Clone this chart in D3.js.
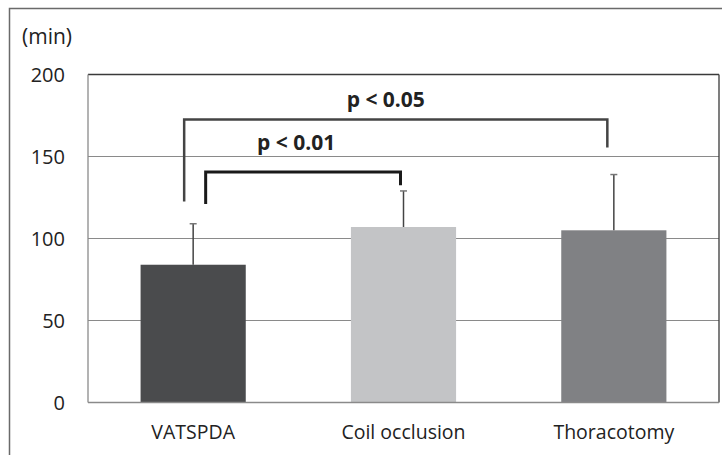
<!DOCTYPE html>
<html><head><meta charset="utf-8">
<script src="https://cdn.jsdelivr.net/npm/d3@7"></script>
<style>html,body{margin:0;padding:0;background:#fff;} svg{display:block;}</style>
</head><body>
<script>
const categories = ["VATSPDA", "Coil occlusion", "Thoracotomy"];
const means = [84, 107, 105];
const errTops = [109, 129, 139];
const barColors = ["#4a4b4d", "#c3c4c6", "#808184"];
const yTicks = [0, 50, 100, 150, 200];
const yLabel = "(min)";
const sigLabels = ["p < 0.01", "p < 0.05"];
const sigPairs = [[0, 1], [0, 2]];

const W = 722, H = 455;
const m = {left: 88, right: 3, top: 74.5, bottom: 52.5};
const svg = d3.select("body").append("svg").attr("width", W).attr("height", H);
const font = "'Open Sans', sans-serif";

// outer frame
svg.append("rect").attr("x", 9.5).attr("y", 8.5).attr("width", 730).attr("height", 460)
  .attr("fill", "none").attr("stroke", "#6a6a6a").attr("stroke-width", 1.5);

const x = d3.scaleBand().domain(categories).range([m.left, W - m.right]).paddingInner(0.5).paddingOuter(0.25);
const y = d3.scaleLinear().domain([0, 200]).range([H - m.bottom, m.top]);

// gridlines
svg.append("g").selectAll("line").data(yTicks.filter(t => t > 0 && t < 200)).join("line")
  .attr("x1", m.left).attr("x2", W - m.right)
  .attr("y1", d => y(d)).attr("y2", d => y(d))
  .attr("stroke", "#8a8a8a").attr("stroke-width", 1.2);

// plot border
svg.append("line").attr("x1", m.left).attr("x2", W - m.right).attr("y1", y(200)).attr("y2", y(200)).attr("stroke", "#3a3a3a").attr("stroke-width", 1.3);
svg.append("line").attr("x1", W - m.right).attr("x2", W - m.right).attr("y1", y(200)).attr("y2", y(0)).attr("stroke", "#3a3a3a").attr("stroke-width", 1.3);
svg.append("line").attr("x1", m.left).attr("x2", m.left).attr("y1", y(200)).attr("y2", y(0)).attr("stroke", "#8a8a8a").attr("stroke-width", 1.3);

// bars
svg.append("g").selectAll("rect").data(categories).join("rect")
  .attr("x", d => x(d)).attr("width", x.bandwidth())
  .attr("y", (d, i) => y(means[i])).attr("height", (d, i) => y(0) - y(means[i]))
  .attr("fill", (d, i) => barColors[i]);

// bottom axis
svg.append("line").attr("x1", m.left).attr("x2", W - m.right).attr("y1", y(0)).attr("y2", y(0)).attr("stroke", "#8a8a8a").attr("stroke-width", 1.3);

// error bars
const eb = svg.append("g");
categories.forEach((c, i) => {
  const cx = x(c) + x.bandwidth() / 2;
  eb.append("line").attr("x1", cx).attr("x2", cx).attr("y1", y(means[i])).attr("y2", y(errTops[i]))
    .attr("stroke", "#444").attr("stroke-width", 1.5);
  eb.append("line").attr("x1", cx - 3.5).attr("x2", cx + 3.5).attr("y1", y(errTops[i])).attr("y2", y(errTops[i]))
    .attr("stroke", "#777").attr("stroke-width", 1.5);
});

// y tick labels
svg.append("g").selectAll("text").data(yTicks).join("text")
  .attr("x", 65).attr("y", d => y(d)).attr("dy", "0.36em")
  .attr("text-anchor", "end").attr("font-family", font).attr("font-size", 20).attr("fill", "#222")
  .text(d => d);

svg.append("text").attr("x", 22).attr("y", 44).attr("font-family", font).attr("font-size", 21).attr("fill", "#222").text(yLabel);

// category labels
svg.append("g").selectAll("text").data(categories).join("text")
  .attr("x", d => x(d) + x.bandwidth() / 2).attr("y", 439)
  .attr("text-anchor", "middle").attr("font-family", font).attr("font-size", 19.5).attr("fill", "#222")
  .text(d => d);

// significance brackets
const br = svg.append("g");
// small bracket: p<0.01
{
  const [a, b] = sigPairs[0];
  const xa = x(categories[a]) + x.bandwidth() / 2 + 12.5;
  const xb = x(categories[b]) + x.bandwidth() / 2 - 3;
  const yt = y(140.5), ya = y(121), yb = y(132.5);
  br.append("path").attr("d", `M${xa},${ya}V${yt}H${xb}V${yb}`)
    .attr("fill", "none").attr("stroke", "#1a1a1a").attr("stroke-width", 3);
  br.append("text").attr("x", (xa + xb) / 2 - 7).attr("y", 150).attr("text-anchor", "middle")
    .attr("font-family", font).attr("font-weight", "bold").attr("font-size", 21).attr("fill", "#222").text(sigLabels[0]);
}
// large bracket: p<0.05
{
  const [a, b] = sigPairs[1];
  const xa = x(categories[a]) + x.bandwidth() / 2 - 9;
  const xb = x(categories[b]) + x.bandwidth() / 2 - 6.5;
  const yt = y(172.5), ya = y(122.5), yb = y(155.5);
  br.append("path").attr("d", `M${xa},${ya}V${yt}H${xb}V${yb}`)
    .attr("fill", "none").attr("stroke", "#444").attr("stroke-width", 2.5);
  br.append("text").attr("x", (xa + xb) / 2 - 10).attr("y", 107).attr("text-anchor", "middle")
    .attr("font-family", font).attr("font-weight", "bold").attr("font-size", 21).attr("fill", "#222").text(sigLabels[1]);
}
</script>
</body></html>
